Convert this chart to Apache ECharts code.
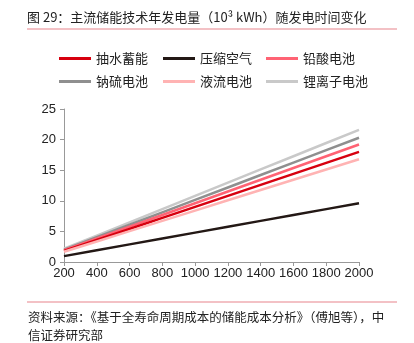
<!DOCTYPE html>
<html><head><meta charset="utf-8">
<script src="https://cdn.jsdelivr.net/npm/echarts@6/dist/echarts.min.js"></script>
<style>html,body{margin:0;padding:0;background:#fff}#c{width:414px;height:343px}</style>
</head><body><div id="c"></div>
<script>
const xValues = [200, 400, 600, 800, 1000, 1200, 1400, 1600, 1800, 2000];
const seriesNames = ['抽水蓄能', '压缩空气', '铅酸电池', '钠硫电池', '液流电池', '锂离子电池'];
const pumpedHydro = [1.8, 3.6, 5.4, 7.2, 9.0, 10.8, 12.6, 14.4, 16.2, 18.0];
const compressedAir = [0.96, 1.92, 2.88, 3.84, 4.8, 5.76, 6.72, 7.68, 8.64, 9.6];
const leadAcid = [1.92, 3.84, 5.76, 7.68, 9.6, 11.52, 13.44, 15.36, 17.28, 19.2];
const sodiumSulfur = [2.03, 4.06, 6.09, 8.12, 10.15, 12.18, 14.21, 16.24, 18.27, 20.3];
const flowBattery = [1.68, 3.36, 5.04, 6.72, 8.4, 10.08, 11.76, 13.44, 15.12, 16.8];
const lithiumIon = [2.16, 4.32, 6.48, 8.64, 10.8, 12.96, 15.12, 17.28, 19.44, 21.6];
const yTicks = [0, 5, 10, 15, 20, 25];
const titleText = '图 29：主流储能技术年发电量（10³ kWh）随发电时间变化';
const sourceLine1 = '资料来源：《基于全寿命周期成本的储能成本分析》（傅旭等），中';
const sourceLine2 = '信证券研究部';

const allData = [pumpedHydro, compressedAir, leadAcid, sodiumSulfur, flowBattery, lithiumIon];
const colors = ['#D7000F', '#231815', '#FF6374', '#8F8F8F', '#FFB3B3', '#C9C9C9'];
const zOrder = [4, 6, 3, 2, 5, 1];
const legendPos = [[59, 52], [163, 52], [266, 52], [59, 75], [163, 75], [266, 75]];
const font = '"Noto Sans CJK SC", "Liberation Sans", sans-serif';
const numFont = '"Liberation Sans", Arial, sans-serif';

const chart = echarts.init(document.getElementById('c'), null, {renderer: 'canvas'});
const option = {
  backgroundColor: '#fff',
  animation: false,
  textStyle: {fontFamily: font},
  legend: seriesNames.map((n, i) => ({
    data: [n], left: legendPos[i][0], top: legendPos[i][1], padding: 0,
    icon: 'rect', itemWidth: 32, itemHeight: 3, itemGap: 4,
    textStyle: {fontSize: 13, color: '#222', fontFamily: font}
  })),
  grid: {left: 64, right: 55, top: 109, bottom: 81},
  xAxis: {
    type: 'value', min: 200, max: 2000, interval: 200,
    axisLine: {show: true, lineStyle: {color: '#999', width: 1}},
    axisTick: {show: true, length: 4, lineStyle: {color: '#999'}},
    axisLabel: {fontSize: 13, color: '#222', margin: 5, fontFamily: numFont, formatter: v => String(v)},
    splitLine: {show: false}
  },
  yAxis: {
    type: 'value', min: yTicks[0], max: yTicks[yTicks.length - 1], interval: 5,
    axisLine: {show: true, lineStyle: {color: '#999', width: 1}},
    axisTick: {show: true, length: 4, lineStyle: {color: '#999'}},
    axisLabel: {fontSize: 13, color: '#222', margin: 8, fontFamily: numFont, formatter: v => String(v)},
    splitLine: {show: false}
  },
  series: seriesNames.map((n, i) => ({
    name: n, type: 'line', showSymbol: false, symbol: 'none', z: zOrder[i],
    lineStyle: {color: colors[i], width: 2.5},
    itemStyle: {color: colors[i]},
    data: xValues.map((x, j) => [x, allData[i][j]])
  })),
  graphic: [
    {type: 'text', left: 27, top: 11, style: {text: titleText, font: '13px ' + font, fill: '#222'}},
    {type: 'rect', shape: {x: 27, y: 28.5, width: 370, height: 1}, style: {fill: '#E8848C'}},
    {type: 'rect', shape: {x: 27, y: 301.5, width: 370, height: 1}, style: {fill: '#E8848C'}},
    {type: 'text', left: 28, top: 311, style: {text: sourceLine1, font: '12.5px ' + font, fill: '#222'}},
    {type: 'text', left: 28, top: 329, style: {text: sourceLine2, font: '12.5px ' + font, fill: '#222'}}
  ]
};
chart.setOption(option);
</script></body></html>
